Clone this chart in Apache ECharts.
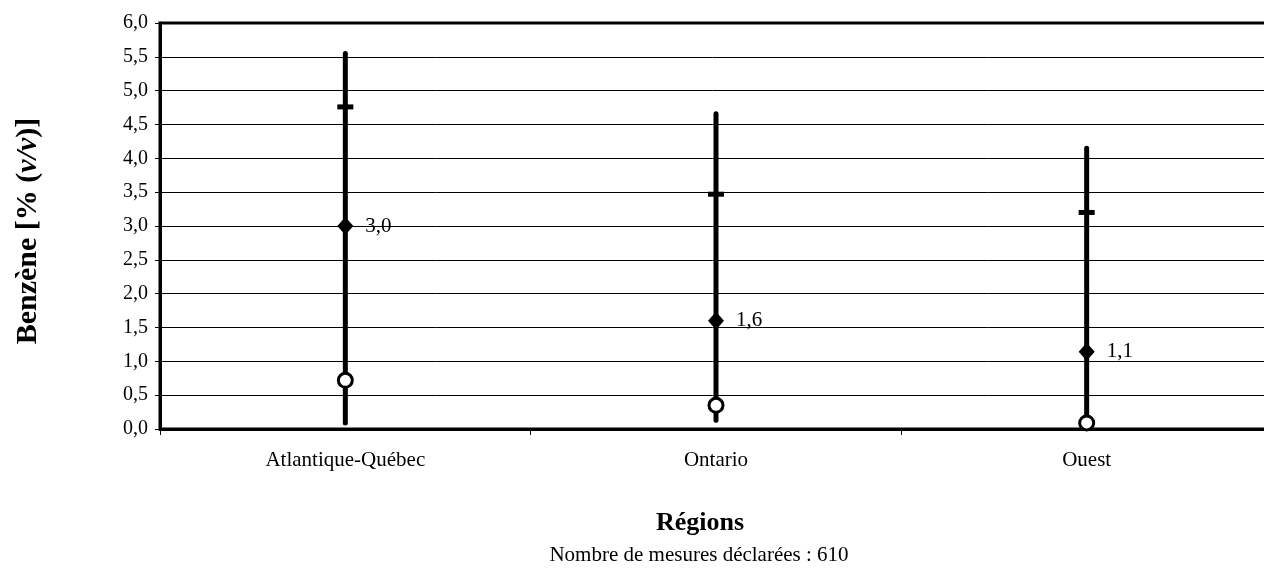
<!DOCTYPE html>
<html>
<head>
<meta charset="utf-8">
<script src="https://cdn.jsdelivr.net/npm/echarts@6/dist/echarts.min.js"></script>
<style>
  html, body { margin: 0; padding: 0; background: #fff; }
  #chart { width: 1264px; height: 579px; }
</style>
</head>
<body>
<div id="chart"></div>
<script>
// regions and the values
const regions = ['Atlantique-Québec', 'Ontario', 'Ouest'];
const minValues = [0.09, 0.13, 0.05];
const maxValues = [5.55, 4.66, 4.15];
const p95Values = [4.76, 3.47, 3.2];
const meanValues = [3.0, 1.6, 1.14];
const lowValues = [0.72, 0.35, 0.09];
const yTicks = { min: 0, max: 6, interval: 0.5 };

const serif = 'Liberation Serif';
const fmt = v => v.toFixed(1).replace('.', ',');

const chart = echarts.init(document.getElementById('chart'));

const rangeData = regions.map((r, i) => [i, minValues[i], maxValues[i]]);

const option = {
  animation: false,
  grid: {
    left: 160, top: 23, bottom: 150, width: 1112,
    outerBoundsMode: 'none',
    show: true, borderColor: '#000', borderWidth: 3, backgroundColor: 'transparent'
  },
  xAxis: {
    type: 'category',
    data: regions,
    boundaryGap: true,
    axisLine: { lineStyle: { color: '#000', width: 3 } },
    axisTick: { show: true, length: 6, lineStyle: { color: '#000', width: 1 } },
    axisLabel: { color: '#000', fontFamily: serif, fontSize: 21, margin: 21 },
    splitLine: { show: false }
  },
  yAxis: {
    type: 'value',
    min: yTicks.min, max: yTicks.max, interval: yTicks.interval,
    axisLine: { show: true, lineStyle: { color: '#000', width: 3 } },
    axisTick: { show: true, length: 5, lineStyle: { color: '#000', width: 1 } },
    axisLabel: { color: '#000', fontFamily: serif, fontSize: 20, margin: 12, formatter: fmt },
    splitLine: { show: true, lineStyle: { color: '#000', width: 1 } }
  },
  graphic: [
    {
      type: 'text', x: 28, y: 231, rotation: Math.PI / 2,
      style: {
        text: '{b|Benzène [% (}{i|v/v}{b|)]}',
        align: 'center', verticalAlign: 'middle',
        rich: {
          b: { fontFamily: serif, fontWeight: 'bold', fontSize: 30, fill: '#000' },
          i: { fontFamily: serif, fontWeight: 'bold', fontStyle: 'italic', fontSize: 30, fill: '#000' }
        }
      }
    },
    {
      type: 'text', x: 700, y: 523,
      style: { text: 'Régions', fontFamily: serif, fontWeight: 'bold', fontSize: 26, fill: '#000', align: 'center', verticalAlign: 'middle' }
    },
    {
      type: 'text', x: 699, y: 555,
      style: { text: 'Nombre de mesures déclarées : 610', fontFamily: serif, fontSize: 21, fill: '#000', align: 'center', verticalAlign: 'middle' }
    }
  ],
  series: [
    {
      type: 'custom',
      data: rangeData,
      z: 2,
      renderItem: function (params, api) {
        const a = api.coord([api.value(0), api.value(1)]);
        const b = api.coord([api.value(0), api.value(2)]);
        return {
          type: 'line',
          shape: { x1: a[0], y1: a[1], x2: b[0], y2: b[1] },
          style: { stroke: '#000', lineWidth: 5, lineCap: 'round' }
        };
      }
    },
    {
      type: 'scatter',
      data: p95Values,
      symbol: 'rect',
      symbolSize: [16, 5],
      itemStyle: { color: '#000', opacity: 1 },
      z: 3
    },
    {
      type: 'scatter',
      data: meanValues,
      symbol: 'diamond',
      symbolSize: [16, 18],
      itemStyle: { color: '#000', opacity: 1 },
      z: 3,
      label: {
        show: true, position: 'right', distance: 12,
        formatter: p => fmt(p.value),
        color: '#000', fontFamily: serif, fontSize: 21
      }
    },
    {
      type: 'scatter',
      data: lowValues,
      symbol: 'circle',
      symbolSize: 14,
      itemStyle: { color: '#fff', borderColor: '#000', borderWidth: 3, opacity: 1 },
      z: 4
    }
  ]
};

chart.setOption(option);
</script>
</body>
</html>
